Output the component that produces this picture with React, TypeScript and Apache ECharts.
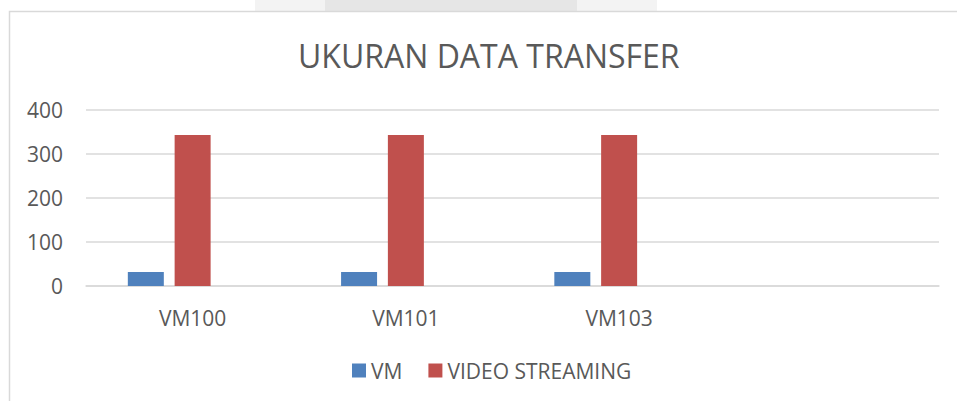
import React, { useEffect, useRef } from "react";
import * as echarts from "echarts";

const categories = ["VM100", "VM101", "VM103", ""];
const vmValues = [32, 32, 32, null];
const videoValues = [343, 343, 343, null];
const emptyValues = [null, null, null, null];
const yTicks = { min: 0, max: 400, interval: 100 };

const TEXT = "#595959";
const FONT = "'Open Sans', 'Noto Sans', sans-serif";

export default function App() {
  const ref = useRef<HTMLDivElement>(null);
  useEffect(() => {
    if (!ref.current) return;
    const chart = echarts.init(ref.current, null, { renderer: "svg" });
    chart.setOption({
      animation: false,
      backgroundColor: "#ffffff",
      title: {
        text: "UKURAN DATA TRANSFER",
        left: 293,
        top: 34,
        textStyle: { fontFamily: FONT, fontSize: 32, fontWeight: 400, color: TEXT },
      },
      legend: {
        data: ["VM", "VIDEO STREAMING"],
        left: 347,
        top: 355,
        itemWidth: 14,
        itemHeight: 14,
        itemGap: 26,
        icon: "rect",
        textStyle: { fontFamily: FONT, fontSize: 21, color: TEXT },
      },
      grid: { left: 86, right: 18, top: 110, bottom: 115 },
      xAxis: {
        type: "category",
        data: categories,
        axisLine: { show: true, lineStyle: { color: "#d9d9d9", width: 1.5 } },
        axisTick: { show: false },
        axisLabel: { fontFamily: FONT, fontSize: 21, color: TEXT, margin: 21 },
      },
      yAxis: {
        type: "value",
        min: yTicks.min,
        max: yTicks.max,
        interval: yTicks.interval,
        axisLine: { show: false },
        axisTick: { show: false },
        splitLine: { lineStyle: { color: "#d9d9d9", width: 1.5 } },
        axisLabel: { fontFamily: FONT, fontSize: 21, color: TEXT, margin: 23 },
      },
      graphic: [
        { type: "rect", shape: { x: 255, y: 0, width: 70, height: 11 }, style: { fill: "#f3f3f3" }, z: -1 },
        { type: "rect", shape: { x: 325, y: 0, width: 252, height: 11 }, style: { fill: "#e6e6e6" }, z: -1 },
        { type: "rect", shape: { x: 577, y: 0, width: 80, height: 11 }, style: { fill: "#f3f3f3" }, z: -1 },
        {
          type: "polyline",
          shape: { points: [[9.5, 401], [9.5, 11.5], [957, 11.5]] },
          style: { stroke: "#d9d9d9", lineWidth: 1.5, fill: "none" },
        },
      ],
      series: [
        {
          name: "VM",
          type: "bar",
          data: vmValues,
          barWidth: 36,
          barGap: "30%",
          itemStyle: { color: "#4f81bd" },
        },
        {
          name: "VIDEO STREAMING",
          type: "bar",
          data: videoValues,
          barWidth: 36,
          barGap: "30%",
          itemStyle: { color: "#c0504d" },
        },
        {
          name: "",
          type: "bar",
          data: emptyValues,
          barWidth: 36,
          barGap: "30%",
          itemStyle: { color: "#9bbb59" },
        },
      ],
    });
    return () => chart.dispose();
  }, []);
  return (
    <div
      ref={ref}
      style={{ position: "fixed", left: 0, top: 0, width: 957, height: 401, background: "#fff" }}
    />
  );
}
